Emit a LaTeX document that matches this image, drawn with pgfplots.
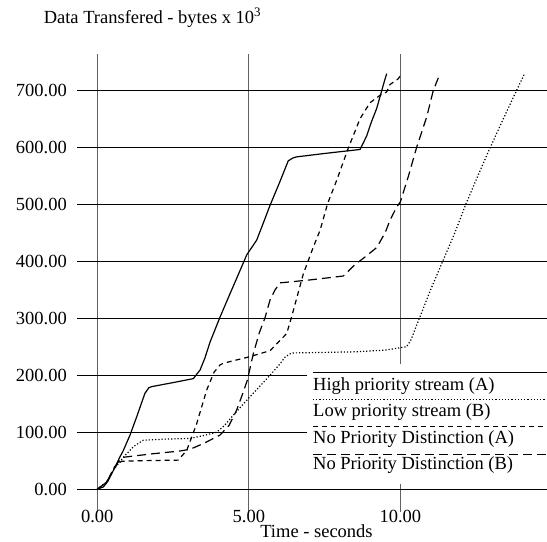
\documentclass[border=0pt]{standalone}
\usepackage{fontspec}
\setmainfont{Liberation Serif}
\usepackage{pgfplots}
\pgfplotsset{compat=1.18}
\begin{document}
\begin{tikzpicture}[font=\fontsize{18.5bp}{22bp}\selectfont]
\useasboundingbox (0,0) rectangle (547bp,542bp);
\begin{axis}[
  at={(77bp,30bp)}, anchor=south west,
  scale only axis, width=470bp, height=458bp,
  xmin=-0.67, xmax=14.84, ymin=-40, ymax=763.5,
  axis line style={draw=none},
  xtick={0,5,10}, xticklabels={0.00,5.00,10.00},
  ytick={0,100,200,300,400,500,600,700},
  yticklabels={0.00,100.00,200.00,300.00,400.00,500.00,600.00,700.00},
  major tick length=0pt,
  grid=major,
  x grid style={black!62, line width=1.2bp},
  y grid style={black, line width=1bp},
  xticklabel style={anchor=base, yshift=-10bp, inner sep=0pt},
  yticklabel style={anchor=east, xshift=-10bp, inner sep=0pt},
  title={Data Transfered - bytes x 10\textsuperscript{3}},
  title style={at={(axis description cs:0.1606,1)}, anchor=base, yshift=25bp, inner sep=0pt},
  xlabel={Time - seconds},
  xlabel style={at={(axis description cs:0.5096,0)}, anchor=base, yshift=-25bp, inner sep=0pt},
  every axis plot/.append style={line width=1.2bp, black},
  clip=false,
]
% High priority stream (A)
\addplot[solid] coordinates {
(0,0) (0.2,4) (0.35,14) (0.53,33) (0.75,57) (0.86,68) (1.08,95) (1.3,127) (1.57,168) (1.7,178) (1.8,180) (2.5,187) (3.17,194) (3.3,203) (3.39,209) (3.55,230) (3.72,258) (4.05,302) (4.38,343) (4.6,370) (4.93,411) (5.26,437) (5.5,470) (5.7,498) (6.03,540) (6.3,576) (6.45,581) (6.58,583) (7.5,589) (8.67,596) (8.8,610) (8.89,620) (9.05,645) (9.22,668) (9.39,700) (9.47,715) (9.55,729)
};
% Low priority stream (B)
\addplot[dash pattern=on 1.2bp off 2bp] coordinates {
(0,0) (0.3,12) (0.55,35) (0.86,56) (1.2,75) (1.52,86) (2.3,88) (3.06,89) (3.5,94) (3.94,100) (4.2,112) (4.49,130) (4.93,156) (5.3,177) (5.7,200) (6.0,218) (6.2,232) (6.41,239) (7.5,240) (8.5,241) (9.5,244) (10.21,250) (10.35,262) (10.6,296) (11.0,350) (11.4,400) (11.8,450) (12.16,500) (12.56,550) (12.97,600) (13.4,650) (13.84,700) (14.1,729)
};
% No Priority Distinction (A)
\addplot[dash pattern=on 5bp off 4bp] coordinates {
(0,0) (0.3,12) (0.58,40) (0.8,49) (1.5,50) (2.67,51) (2.95,68) (3.28,115) (3.61,174) (3.85,205) (4.05,218) (4.16,221) (5.0,232) (5.7,243) (6.03,261) (6.25,273) (6.41,302) (6.8,378) (7.13,425) (7.35,454) (7.6,501) (7.9,542) (8.28,598) (8.67,650) (9.0,678) (9.33,691) (9.55,697) (9.66,710) (9.93,720) (10.05,729)
};
% No Priority Distinction (B)
\addplot[dash pattern=on 9bp off 5bp] coordinates {
(0,0) (0.3,12) (0.55,35) (0.75,53) (0.86,56) (1.8,62) (2.73,67) (3.06,70) (3.5,80) (4.05,95) (4.35,112) (4.6,139) (4.8,168) (4.95,191) (5.15,238) (5.35,275) (5.53,300) (5.7,332) (5.87,350) (6.03,362) (7.0,367) (8.12,374) (8.5,394) (8.85,408) (9.22,424) (9.5,450) (9.66,472) (9.88,495) (10.0,504) (10.26,548) (10.54,600) (10.87,653) (11.09,700) (11.31,729)
};
\end{axis}
% legend
\fill[white] (307bp,58bp) rectangle (547bp,178bp);
\draw[line width=1.2bp] (313bp,169.5bp) -- (547bp,169.5bp);
\draw[line width=1.2bp, dash pattern=on 1.2bp off 2bp] (313bp,142.5bp) -- (547bp,142.5bp);
\draw[line width=1.2bp, dash pattern=on 5bp off 4bp] (313bp,115.5bp) -- (547bp,115.5bp);
\draw[line width=1.2bp, dash pattern=on 9bp off 5bp] (313bp,87.5bp) -- (547bp,87.5bp);
\node[anchor=base west, inner sep=0pt] at (313bp,151.5bp) {High priority stream (A)};
\node[anchor=base west, inner sep=0pt] at (313bp,125.3bp) {Low priority stream (B)};
\node[anchor=base west, inner sep=0pt] at (313bp,98.7bp) {No Priority Distinction (A)};
\node[anchor=base west, inner sep=0pt] at (313bp,72bp) {No Priority Distinction (B)};
\end{tikzpicture}
\end{document}
